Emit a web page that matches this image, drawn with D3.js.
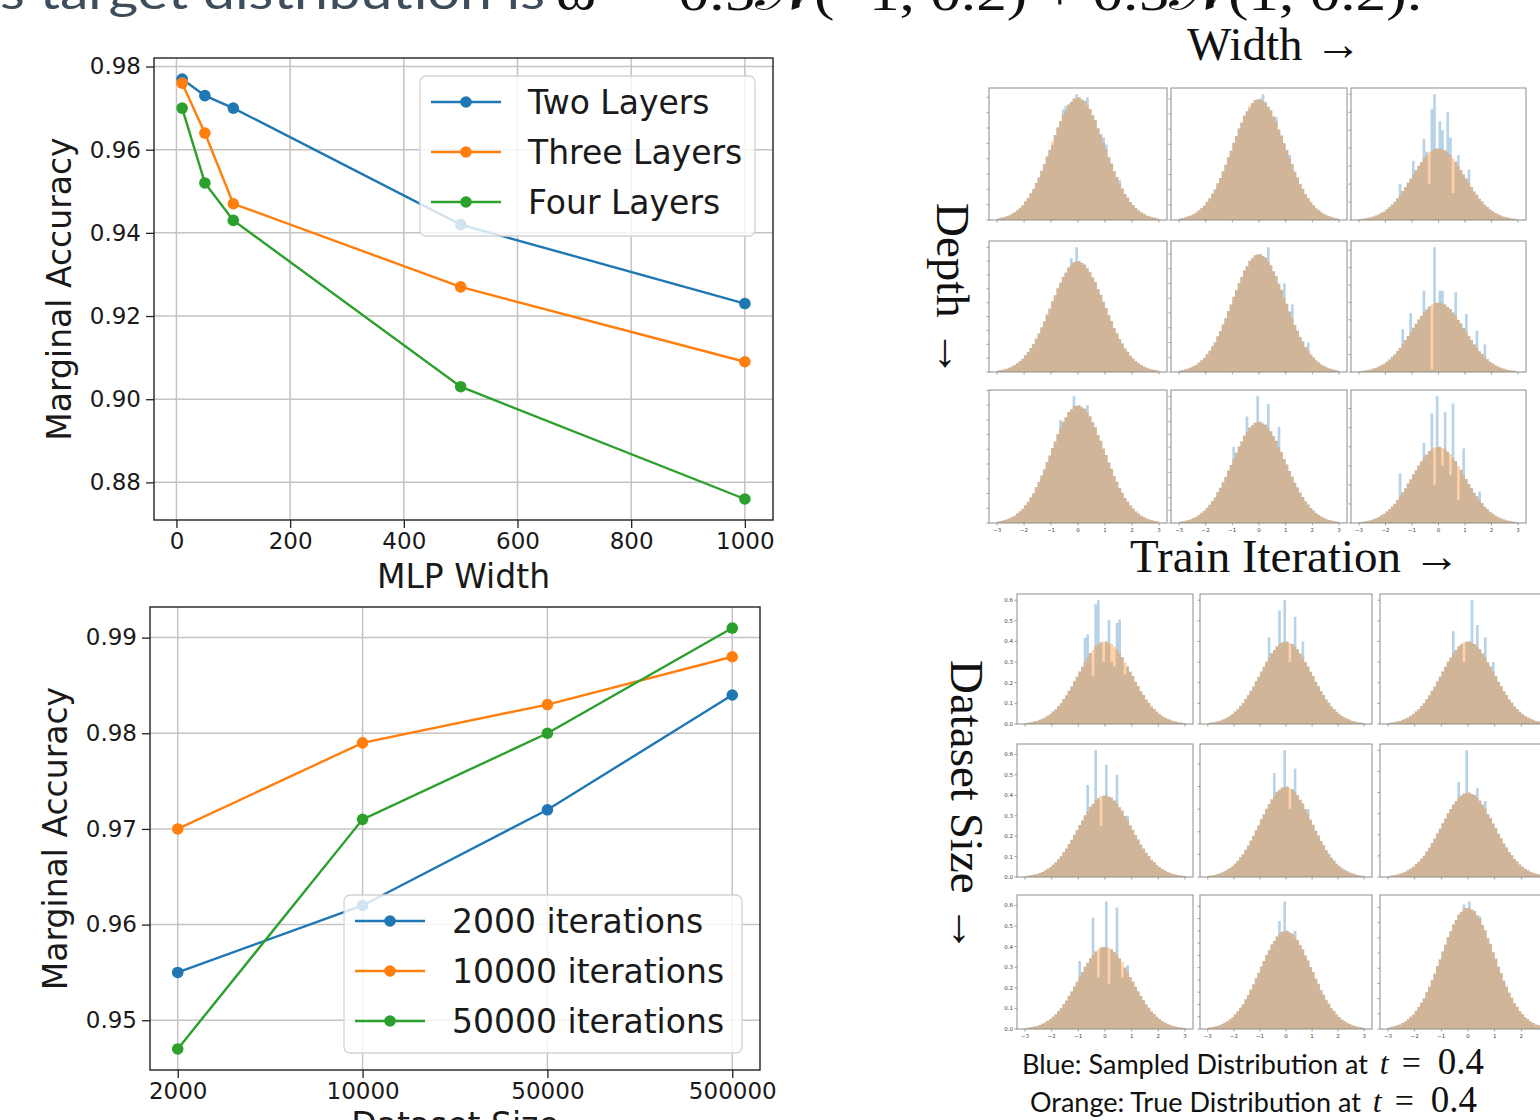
<!DOCTYPE html>
<html>
<head>
<meta charset="utf-8">
<script src="https://cdn.jsdelivr.net/npm/d3@7"></script>
<style>
  body { margin: 0; background: #fff; }
  svg { display: block; }
</style>
</head>
<body>
<svg id="fig" width="1540" height="1120"></svg>
<script>
// --- line chart data ---
const mlpWidths = [10, 50, 100, 500, 1000];
const accTwoLayers = [0.977, 0.973, 0.970, 0.942, 0.923];
const accThreeLayers = [0.976, 0.964, 0.947, 0.927, 0.909];
const accFourLayers = [0.970, 0.952, 0.943, 0.903, 0.876];
const layerNames = ["Two Layers", "Three Layers", "Four Layers"];

const datasetSizes = ["2000", "10000", "50000", "500000"];
const acc2000 = [0.955, 0.962, 0.972, 0.984];
const acc10000 = [0.970, 0.979, 0.983, 0.988];
const acc50000 = [0.947, 0.971, 0.980, 0.991];
const iterNames = ["2000 iterations", "10000 iterations", "50000 iterations"];

const mplColors = ["#1f77b4", "#ff7f0e", "#2ca02c"];

// --- histogram data (60 bins from -3 to 3) ---
const histLo = -3, histBin = 0.1;
const trueDensity = [
  .005, .007, .009, .012, .015, .020, .025, .032, .040, .048,
  .060, .072, .087, .101, .121, .139, .161, .182, .207, .229,
  .255, .277, .302, .322, .344, .359, .377, .386, .396, .398,
  .400, .393, .388, .374, .362, .342, .325, .299, .279, .253,
  .231, .205, .184, .159, .140, .119, .103, .085, .073, .059,
  .049, .039, .032, .025, .020, .015, .012, .009, .007, .005
];
const histTicks = [-3, -2, -1, 0, 1, 2, 3];

// sampled histogram: [x, density] where it departs from the true one
// rows = depth, cols = width
const topSampled = [
  [[-0.95, .245], [-0.55, .36], [-0.45, .372], [-0.05, .41], [0.35, .40], [0.95, .27], [1.05, .246], [1.55, .13]],
  [[-0.35, .37], [0.15, .415], [0.65, .34], [1.15, .215]],
  [[-1.45, .20], [-0.95, .33], [-0.55, .45], [-0.45, .38], [-0.35, .20], [-0.25, .62], [-0.15, .70], [0.05, .55],
   [0.15, .50], [0.35, .60], [0.45, .46], [0.55, .15], [0.75, .36], [1.15, .28]],
  [[-0.25, .41], [-0.05, .45], [0.45, .36]],
  [[0.35, .423], [0.95, .30], [1.25, .23], [1.85, .10]],
  [[-1.35, .246], [-1.05, .337], [-0.55, .467], [-0.25, .015], [-0.15, .717], [0.05, .467],
   [0.15, .467], [0.65, .458], [1.05, .333], [1.45, .237], [1.75, .16]],
  [[-0.15, .43], [0.35, .40], [-0.65, .35]],
  [[-0.95, .30], [-0.45, .42], [-0.05, .50], [0.35, .47], [0.75, .38]],
  [[-1.45, .26], [-0.55, .42], [-0.25, .574], [-0.15, .20], [-0.05, .664], [0.15, .30], [0.25, .58],
   [0.45, .25], [0.55, .626], [0.75, .12], [0.95, .39], [1.55, .165]]
];
// rows = dataset size, cols = train iteration
const bottomSampled = [
  [[-0.75, .417], [-0.65, .434], [-0.45, .23], [-0.35, .58], [-0.25, .60], [-0.05, .30], [0.15, .503],
   [0.25, .30], [0.35, .28], [0.45, .49], [0.55, .506], [0.75, .24]],
  [[-0.65, .42], [-0.25, .55], [-0.05, .60], [0.15, .30], [0.35, .52], [0.65, .40]],
  [[-0.55, .45], [-0.15, .30], [0.15, .60], [0.35, .48], [0.65, .42], [0.95, .30]],
  [[-0.65, .45], [-0.35, .62], [-0.15, .25], [0.05, .55], [0.45, .50], [0.85, .30]],
  [[-0.45, .46], [-0.05, .56], [0.15, .30], [0.35, .48], [0.85, .30]],
  [[-0.35, .45], [-0.05, .60], [0.35, .42], [0.65, .36]],
  [[-0.95, .33], [-0.45, .54], [-0.25, .25], [0.05, .62], [0.15, .22], [0.45, .59], [0.65, .25], [0.85, .31]],
  [[-0.25, .44], [-0.05, .52], [0.35, .40]],
  [[-0.15, .41], [0.05, .42], [0.45, .37]]
];

// --- panel layout (pixels) ---
const topColX = [989, 1171, 1351], topColW = [178, 176, 175];
const topRowY = [88, 241, 390], topRowH = [132, 131, 133];
const botColX = [1017, 1200, 1380], botColW = [176, 172, 176];
const botRowY = [594, 744, 895], botRowH = [130, 133, 134];

const svg = d3.select("#fig");
svg.append("rect").attr("width", 1540).attr("height", 1120).attr("fill", "#fff");

// ---------- line charts ----------
function padded(vals) {
  const [lo, hi] = d3.extent(vals);
  const p = (hi - lo) * 0.05;
  return [lo - p, hi + p];
}

function lineChart(o) {
  const g = svg.append("g");
  const x = d3.scaleLinear().domain(padded(o.xs)).range([o.left, o.right]);
  const y = d3.scaleLinear().domain(padded(o.series.flat())).range([o.bottom, o.top]);
  const yTicks = y.ticks(6);

  g.append("g").selectAll("line").data(o.xTicks).join("line")
    .attr("x1", d => x(d)).attr("x2", d => x(d)).attr("y1", o.top).attr("y2", o.bottom)
    .attr("stroke", "#c4c4c4").attr("stroke-width", 1.5);
  g.append("g").selectAll("line").data(yTicks).join("line")
    .attr("x1", o.left).attr("x2", o.right).attr("y1", d => y(d)).attr("y2", d => y(d))
    .attr("stroke", "#c4c4c4").attr("stroke-width", 1.5);

  o.series.forEach((s, k) => {
    const pts = s.map((v, i) => [o.xs[i], v]);
    g.append("path").datum(pts)
      .attr("d", d3.line().x(d => x(d[0])).y(d => y(d[1])))
      .attr("fill", "none").attr("stroke", mplColors[k]).attr("stroke-width", 2.4);
    g.append("g").selectAll("circle").data(pts).join("circle")
      .attr("cx", d => x(d[0])).attr("cy", d => y(d[1])).attr("r", 5.8)
      .attr("fill", mplColors[k]);
  });

  const yAxis = g.append("g").attr("transform", `translate(${o.left},0)`)
    .call(d3.axisLeft(y).tickValues(yTicks).tickFormat(d3.format(o.yFmt)).tickSize(8).tickPadding(5));
  const xAxis = g.append("g").attr("transform", `translate(0,${o.bottom})`)
    .call(d3.axisBottom(x).tickValues(o.xTicks).tickFormat(o.xFmt).tickSize(8).tickPadding(5));
  [yAxis, xAxis].forEach(a => {
    a.select(".domain").remove();
    a.selectAll("line").attr("stroke", "#222").attr("stroke-width", 1.3);
    a.selectAll("text").attr("font-family", "DejaVu Sans").attr("font-size", 23).attr("fill", "#1a1a1a");
  });

  g.append("rect").attr("x", o.left).attr("y", o.top)
    .attr("width", o.right - o.left).attr("height", o.bottom - o.top)
    .attr("fill", "none").attr("stroke", "#222").attr("stroke-width", 1.4);

  // legend
  const L = o.legend;
  const lg = g.append("g");
  lg.append("rect").attr("x", L.x).attr("y", L.y).attr("width", L.w).attr("height", L.h)
    .attr("rx", 6).attr("fill", "#fff").attr("fill-opacity", 0.8)
    .attr("stroke", "#d4d4d4").attr("stroke-width", 1.3);
  o.names.forEach((n, k) => {
    const yy = L.y + L.first + k * 50;
    lg.append("line").attr("x1", L.x + 11).attr("x2", L.x + 81).attr("y1", yy).attr("y2", yy)
      .attr("stroke", mplColors[k]).attr("stroke-width", 2.4);
    lg.append("circle").attr("cx", L.x + 46).attr("cy", yy).attr("r", 5.8).attr("fill", mplColors[k]);
    lg.append("text").attr("x", L.x + L.textDx).attr("y", yy + 12)
      .attr("font-family", "DejaVu Sans").attr("font-size", 33).attr("fill", "#1a1a1a").text(n);
  });

  g.append("text").attr("x", (o.left + o.right) / 2).attr("y", o.xLabelY)
    .attr("text-anchor", "middle").attr("font-family", "DejaVu Sans").attr("font-size", 33)
    .attr("fill", "#1a1a1a").text(o.xLabel);
  g.append("text").attr("transform", `translate(${o.yLabelX},${(o.top + o.bottom) / 2}) rotate(-90)`)
    .attr("text-anchor", "middle").attr("font-family", "DejaVu Sans").attr("font-size", 33)
    .attr("fill", "#1a1a1a").text("Marginal Accuracy");
}

lineChart({
  xs: mlpWidths, series: [accTwoLayers, accThreeLayers, accFourLayers], names: layerNames,
  left: 154, right: 773, top: 58, bottom: 520,
  xTicks: [0, 200, 400, 600, 800, 1000], xFmt: d3.format("d"), yFmt: ".2f",
  legend: { x: 420, y: 76, w: 335, h: 160, first: 26, textDx: 108 },
  xLabel: "MLP Width", xLabelY: 588, yLabelX: 71
});

const sizeIdx = datasetSizes.map((d, i) => i);
lineChart({
  xs: sizeIdx, series: [acc2000, acc10000, acc50000], names: iterNames,
  left: 150, right: 760, top: 607, bottom: 1070,
  xTicks: sizeIdx, xFmt: i => datasetSizes[i], yFmt: ".2f",
  legend: { x: 344, y: 895, w: 398, h: 158, first: 26, textDx: 108 },
  xLabel: "Dataset Size", xLabelY: 1136, yLabelX: 67
});

// ---------- histogram grids ----------
function binOf(v) {
  return Math.max(0, Math.min(trueDensity.length - 1, Math.floor((v - histLo) / histBin)));
}
function sampledSeries(overrides) {
  const s = trueDensity.slice();
  overrides.forEach(([v, d]) => { s[binOf(v)] = d; });
  return s;
}

function histPanel(bx, by, bw, bh, overrides, showX, showY) {
  const g = svg.append("g");
  const sampled = sampledSeries(overrides);
  const ymax = d3.max(sampled.concat(trueDensity)) * 1.05;
  const x = d3.scaleLinear().domain([-3.3, 3.3]).range([bx, bx + bw]);
  const y = d3.scaleLinear().domain([0, ymax]).range([by + bh, by]);
  const area = d3.area().curve(d3.curveStepAfter)
    .x(d => x(d[0])).y0(y(0)).y1(d => y(d[1]));
  const steps = s => s.map((v, i) => [histLo + i * histBin, v])
    .concat([[histLo + s.length * histBin, s[s.length - 1]]]);

  g.append("rect").attr("x", bx).attr("y", by).attr("width", bw).attr("height", bh).attr("fill", "#fff");
  g.append("path").attr("d", area(steps(sampled))).attr("fill", "#1f77b4").attr("fill-opacity", 0.32);
  g.append("path").attr("d", area(steps(trueDensity))).attr("fill", "#ff7f0e").attr("fill-opacity", 0.36);

  g.append("g").selectAll("line").data(histTicks).join("line")
    .attr("x1", d => x(d)).attr("x2", d => x(d)).attr("y1", by + bh).attr("y2", by + bh + 2.5)
    .attr("stroke", "#777").attr("stroke-width", 0.7);
  g.append("g").selectAll("line").data(y.ticks(8)).join("line")
    .attr("x1", bx - 2.5).attr("x2", bx).attr("y1", d => y(d)).attr("y2", d => y(d))
    .attr("stroke", "#777").attr("stroke-width", 0.7);
  if (showX) {
    g.append("g").selectAll("text").data(histTicks).join("text")
      .attr("x", d => x(d)).attr("y", by + bh + 9).attr("text-anchor", "middle")
      .attr("font-family", "DejaVu Sans").attr("font-size", 5.5).attr("fill", "#444")
      .text(d => d3.format("d")(d).replace("-", "\u2212"));
  }
  if (showY) {
    g.append("g").selectAll("text").data(y.ticks(8)).join("text")
      .attr("x", bx - 4).attr("y", d => y(d) + 2).attr("text-anchor", "end")
      .attr("font-family", "DejaVu Sans").attr("font-size", 5.5).attr("fill", "#444")
      .text(d3.format(".1f"));
  }
  g.append("rect").attr("x", bx).attr("y", by).attr("width", bw).attr("height", bh)
    .attr("fill", "none").attr("stroke", "#8c8c8c").attr("stroke-width", 1);
}

topSampled.forEach((ov, k) => {
  const r = Math.floor(k / 3), c = k % 3;
  histPanel(topColX[c], topRowY[r], topColW[c], topRowH[r], ov, r === 2, false);
});
bottomSampled.forEach((ov, k) => {
  const r = Math.floor(k / 3), c = k % 3;
  histPanel(botColX[c], botRowY[r], botColW[c], botRowH[r], ov, r === 2, c === 0);
});

// ---------- text ----------
const serif = "Liberation Serif";
function arrowLabel(sel, label) {
  sel.attr("font-family", serif).attr("font-size", 47).attr("fill", "#111")
    .call(t => t.append("tspan").text(label))
    .call(t => t.append("tspan").attr("dx", 12).text("\u2192"));
}
svg.append("text").attr("x", 1187).attr("y", 60).call(arrowLabel, "Width");
svg.append("text").attr("x", 1130).attr("y", 572).call(arrowLabel, "Train Iteration");
svg.append("text").attr("transform", "translate(937,203) rotate(90)").call(arrowLabel, "Depth");
svg.append("text").attr("transform", "translate(951,660) rotate(90)").call(arrowLabel, "Dataset Size");

// header line (cropped at the top of the figure)
svg.append("text").attr("x", 0).attr("y", 9).attr("font-family", "Lato").attr("font-size", 46)
  .attr("fill", "#3e4d5c").attr("textLength", 545).attr("lengthAdjust", "spacingAndGlyphs")
  .text("s target distribution is");
svg.append("text").attr("x", 556).attr("y", 10).attr("font-family", serif).attr("font-size", 50)
  .attr("fill", "#111").attr("textLength", 866).attr("lengthAdjust", "spacingAndGlyphs")
  .text("\u03c9 \u223c 0.5\ud835\udca9(\u22121, 0.2) + 0.5\ud835\udca9(1, 0.2).");

// footnote
function noteLine(y, x0, label) {
  const lab = svg.append("text").attr("x", x0).attr("y", y).attr("font-family", "Lato")
    .attr("font-size", 27).attr("fill", "#111").text(label);
  const mx = x0 + lab.node().getComputedTextLength() + 12;
  svg.append("text").attr("x", mx).attr("y", y).attr("font-family", serif).attr("font-style", "italic")
    .attr("font-size", 32).attr("fill", "#111").text("t");
  svg.append("text").attr("x", mx + 22).attr("y", y).attr("font-family", serif)
    .attr("font-size", 34).attr("fill", "#111").text("=");
  svg.append("text").attr("x", mx + 58).attr("y", y).attr("font-family", serif)
    .attr("font-size", 37).attr("fill", "#111").text("0.4");
}
noteLine(1074, 1022, "Blue: Sampled Distribution at");
noteLine(1112, 1030, "Orange: True Distribution at");
</script>
</body>
</html>
